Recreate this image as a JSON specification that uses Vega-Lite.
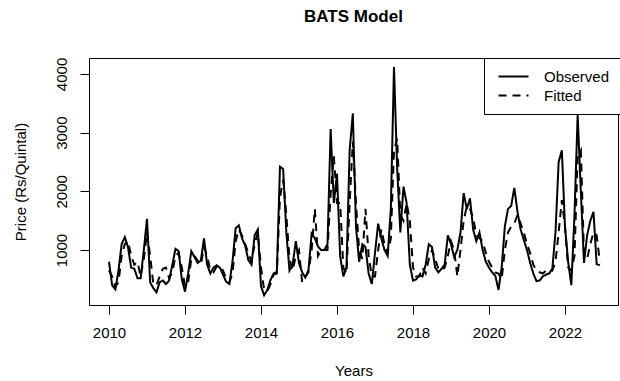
{
  "$schema": "https://vega.github.io/schema/vega-lite/v6.json",
  "width": 529,
  "height": 247,
  "autosize": "none",
  "padding": {"left": 89, "top": 58, "right": 2, "bottom": 76},
  "background": "white",
  "config": {
    "font": "Liberation Sans",
    "view": {"stroke": "black", "strokeWidth": 1}
  },
  "title": {"text": "BATS Model", "fontSize": 17, "fontWeight": "bold", "color": "black", "anchor": "middle", "frame": "group", "offset": 31},
  "data": {"values": [
    {"t":2010.000,"Observed":800,"Fitted":650},{"t":2010.083,"Observed":400,"Fitted":550},{"t":2010.167,"Observed":330,"Fitted":380},{"t":2010.250,"Observed":650,"Fitted":450},{"t":2010.333,"Observed":1100,"Fitted":900},{"t":2010.417,"Observed":1220,"Fitted":1100},{"t":2010.500,"Observed":1050,"Fitted":1150},{"t":2010.583,"Observed":700,"Fitted":900},{"t":2010.667,"Observed":680,"Fitted":750},{"t":2010.750,"Observed":520,"Fitted":800},{"t":2010.833,"Observed":520,"Fitted":550},{"t":2010.917,"Observed":1000,"Fitted":850},
    {"t":2011.000,"Observed":1530,"Fitted":1300},{"t":2011.083,"Observed":450,"Fitted":900},{"t":2011.167,"Observed":350,"Fitted":420},{"t":2011.250,"Observed":280,"Fitted":400},{"t":2011.333,"Observed":450,"Fitted":550},{"t":2011.417,"Observed":480,"Fitted":680},{"t":2011.500,"Observed":420,"Fitted":700},{"t":2011.583,"Observed":480,"Fitted":520},{"t":2011.667,"Observed":750,"Fitted":620},{"t":2011.750,"Observed":1020,"Fitted":900},{"t":2011.833,"Observed":980,"Fitted":950},{"t":2011.917,"Observed":500,"Fitted":700},
    {"t":2012.000,"Observed":290,"Fitted":380},{"t":2012.083,"Observed":600,"Fitted":450},{"t":2012.167,"Observed":980,"Fitted":850},{"t":2012.250,"Observed":880,"Fitted":900},{"t":2012.333,"Observed":780,"Fitted":820},{"t":2012.417,"Observed":820,"Fitted":750},{"t":2012.500,"Observed":1200,"Fitted":1050},{"t":2012.583,"Observed":750,"Fitted":900},{"t":2012.667,"Observed":600,"Fitted":650},{"t":2012.750,"Observed":700,"Fitted":620},{"t":2012.833,"Observed":740,"Fitted":720},{"t":2012.917,"Observed":700,"Fitted":720},
    {"t":2013.000,"Observed":580,"Fitted":650},{"t":2013.083,"Observed":460,"Fitted":520},{"t":2013.167,"Observed":420,"Fitted":450},{"t":2013.250,"Observed":800,"Fitted":600},{"t":2013.333,"Observed":1370,"Fitted":1150},{"t":2013.417,"Observed":1420,"Fitted":1350},{"t":2013.500,"Observed":1200,"Fitted":1250},{"t":2013.583,"Observed":1080,"Fitted":1100},{"t":2013.667,"Observed":830,"Fitted":950},{"t":2013.750,"Observed":750,"Fitted":800},{"t":2013.833,"Observed":1250,"Fitted":1100},{"t":2013.917,"Observed":1350,"Fitted":1300},
    {"t":2014.000,"Observed":380,"Fitted":700},{"t":2014.083,"Observed":230,"Fitted":320},{"t":2014.167,"Observed":320,"Fitted":300},{"t":2014.250,"Observed":490,"Fitted":420},{"t":2014.333,"Observed":600,"Fitted":580},{"t":2014.417,"Observed":630,"Fitted":600},{"t":2014.500,"Observed":2420,"Fitted":1900},{"t":2014.583,"Observed":2380,"Fitted":2200},{"t":2014.667,"Observed":1300,"Fitted":1600},{"t":2014.750,"Observed":650,"Fitted":850},{"t":2014.833,"Observed":750,"Fitted":650},{"t":2014.917,"Observed":1150,"Fitted":900},
    {"t":2015.000,"Observed":780,"Fitted":1000},{"t":2015.083,"Observed":620,"Fitted":450},{"t":2015.167,"Observed":530,"Fitted":550},{"t":2015.250,"Observed":660,"Fitted":620},{"t":2015.333,"Observed":1280,"Fitted":1000},{"t":2015.417,"Observed":1200,"Fitted":1700},{"t":2015.500,"Observed":1060,"Fitted":900},{"t":2015.583,"Observed":1000,"Fitted":1000},{"t":2015.667,"Observed":1000,"Fitted":1000},{"t":2015.750,"Observed":1100,"Fitted":1000},{"t":2015.833,"Observed":3060,"Fitted":1950},{"t":2015.917,"Observed":1800,"Fitted":2600},
    {"t":2016.000,"Observed":2300,"Fitted":1800},{"t":2016.083,"Observed":900,"Fitted":1800},{"t":2016.167,"Observed":550,"Fitted":700},{"t":2016.250,"Observed":700,"Fitted":600},{"t":2016.333,"Observed":2700,"Fitted":1800},{"t":2016.417,"Observed":3330,"Fitted":2850},{"t":2016.500,"Observed":1400,"Fitted":1800},{"t":2016.583,"Observed":800,"Fitted":1000},{"t":2016.667,"Observed":1100,"Fitted":850},{"t":2016.750,"Observed":1050,"Fitted":1700},{"t":2016.833,"Observed":600,"Fitted":900},{"t":2016.917,"Observed":420,"Fitted":550},
    {"t":2017.000,"Observed":950,"Fitted":550},{"t":2017.083,"Observed":1450,"Fitted":1000},{"t":2017.167,"Observed":1200,"Fitted":1350},{"t":2017.250,"Observed":1000,"Fitted":1100},{"t":2017.333,"Observed":900,"Fitted":950},{"t":2017.417,"Observed":1700,"Fitted":1200},{"t":2017.500,"Observed":4120,"Fitted":2700},{"t":2017.583,"Observed":2400,"Fitted":2900},{"t":2017.667,"Observed":1300,"Fitted":1600},{"t":2017.750,"Observed":2080,"Fitted":1500},{"t":2017.833,"Observed":1800,"Fitted":1800},{"t":2017.917,"Observed":750,"Fitted":1500},
    {"t":2018.000,"Observed":480,"Fitted":700},{"t":2018.083,"Observed":500,"Fitted":550},{"t":2018.167,"Observed":570,"Fitted":550},{"t":2018.250,"Observed":550,"Fitted":700},{"t":2018.333,"Observed":750,"Fitted":600},{"t":2018.417,"Observed":1100,"Fitted":850},{"t":2018.500,"Observed":1050,"Fitted":1000},{"t":2018.583,"Observed":700,"Fitted":850},{"t":2018.667,"Observed":620,"Fitted":680},{"t":2018.750,"Observed":680,"Fitted":650},{"t":2018.833,"Observed":750,"Fitted":700},{"t":2018.917,"Observed":1250,"Fitted":900},
    {"t":2019.000,"Observed":1100,"Fitted":1150},{"t":2019.083,"Observed":880,"Fitted":1000},{"t":2019.167,"Observed":1000,"Fitted":550},{"t":2019.250,"Observed":1300,"Fitted":1000},{"t":2019.333,"Observed":1970,"Fitted":1500},{"t":2019.417,"Observed":1700,"Fitted":1750},{"t":2019.500,"Observed":1880,"Fitted":1700},{"t":2019.583,"Observed":1350,"Fitted":1550},{"t":2019.667,"Observed":1150,"Fitted":1250},{"t":2019.750,"Observed":1300,"Fitted":1200},{"t":2019.833,"Observed":1000,"Fitted":1150},{"t":2019.917,"Observed":800,"Fitted":950},
    {"t":2020.000,"Observed":700,"Fitted":800},{"t":2020.083,"Observed":620,"Fitted":700},{"t":2020.167,"Observed":560,"Fitted":620},{"t":2020.250,"Observed":320,"Fitted":600},{"t":2020.333,"Observed":700,"Fitted":500},{"t":2020.417,"Observed":1400,"Fitted":1000},{"t":2020.500,"Observed":1700,"Fitted":1300},{"t":2020.583,"Observed":1750,"Fitted":1400},{"t":2020.667,"Observed":2060,"Fitted":1450},{"t":2020.750,"Observed":1650,"Fitted":1600},{"t":2020.833,"Observed":1350,"Fitted":1450},{"t":2020.917,"Observed":1170,"Fitted":1300},
    {"t":2021.000,"Observed":1000,"Fitted":1100},{"t":2021.083,"Observed":780,"Fitted":950},{"t":2021.167,"Observed":600,"Fitted":750},{"t":2021.250,"Observed":470,"Fitted":650},{"t":2021.333,"Observed":480,"Fitted":620},{"t":2021.417,"Observed":550,"Fitted":600},{"t":2021.500,"Observed":580,"Fitted":650},{"t":2021.583,"Observed":600,"Fitted":680},{"t":2021.667,"Observed":680,"Fitted":650},{"t":2021.750,"Observed":1300,"Fitted":800},{"t":2021.833,"Observed":2500,"Fitted":1300},{"t":2021.917,"Observed":2700,"Fitted":1850},
    {"t":2022.000,"Observed":1400,"Fitted":1400},{"t":2022.083,"Observed":800,"Fitted":700},{"t":2022.167,"Observed":400,"Fitted":650},{"t":2022.250,"Observed":1600,"Fitted":900},{"t":2022.333,"Observed":3300,"Fitted":2600},{"t":2022.417,"Observed":2000,"Fitted":2700},{"t":2022.500,"Observed":780,"Fitted":950},{"t":2022.583,"Observed":1250,"Fitted":850},{"t":2022.667,"Observed":1500,"Fitted":1100},{"t":2022.750,"Observed":1650,"Fitted":1300},{"t":2022.833,"Observed":760,"Fitted":1250},{"t":2022.917,"Observed":740,"Fitted":800}
  ]},
  "transform": [{"fold": ["Observed", "Fitted"], "as": ["series", "price"]}],
  "mark": {"type": "line", "strokeWidth": 2, "color": "black", "clip": true},
  "encoding": {
    "x": {
      "field": "t", "type": "quantitative",
      "scale": {"domain": [2009.474, 2023.395], "nice": false, "zero": false},
      "axis": {"title": "Years", "values": [2010, 2012, 2014, 2016, 2018, 2020, 2022], "format": "d", "domain": false, "grid": false, "tickColor": "black", "tickSize": 9, "labelFontSize": 15, "labelColor": "black", "labelPadding": 11, "titleFontSize": 15, "titleFontWeight": "normal", "titleColor": "black", "titlePadding": 23}
    },
    "y": {
      "field": "price", "type": "quantitative",
      "scale": {"domain": [63, 4272], "nice": false, "zero": false},
      "axis": {"title": "Price (Rs/Quintal)", "values": [1000, 2000, 3000, 4000], "format": "d", "domain": false, "grid": false, "tickColor": "black", "tickSize": 9, "labelFontSize": 15, "labelColor": "black", "labelAngle": 270, "labelAlign": "center", "labelBaseline": "bottom", "labelPadding": 11, "titleFontSize": 15, "titleFontWeight": "normal", "titleColor": "black", "titlePadding": 26}
    },
    "strokeDash": {
      "field": "series", "type": "nominal",
      "scale": {"domain": ["Observed", "Fitted"], "range": [[1, 0], [8, 6]]},
      "legend": {"orient": "none", "legendX": 395, "legendY": 0, "title": null, "symbolType": "M-2,0H2", "symbolSize": 225, "symbolOffset": 11, "symbolStrokeWidth": 2, "symbolStrokeColor": "black", "symbolFillColor": "transparent", "labelFontSize": 15, "labelColor": "black", "labelOffset": 22, "strokeColor": "black", "fillColor": "white", "padding": 10, "rowPadding": 2, "cornerRadius": 0}
    }
  }
}
